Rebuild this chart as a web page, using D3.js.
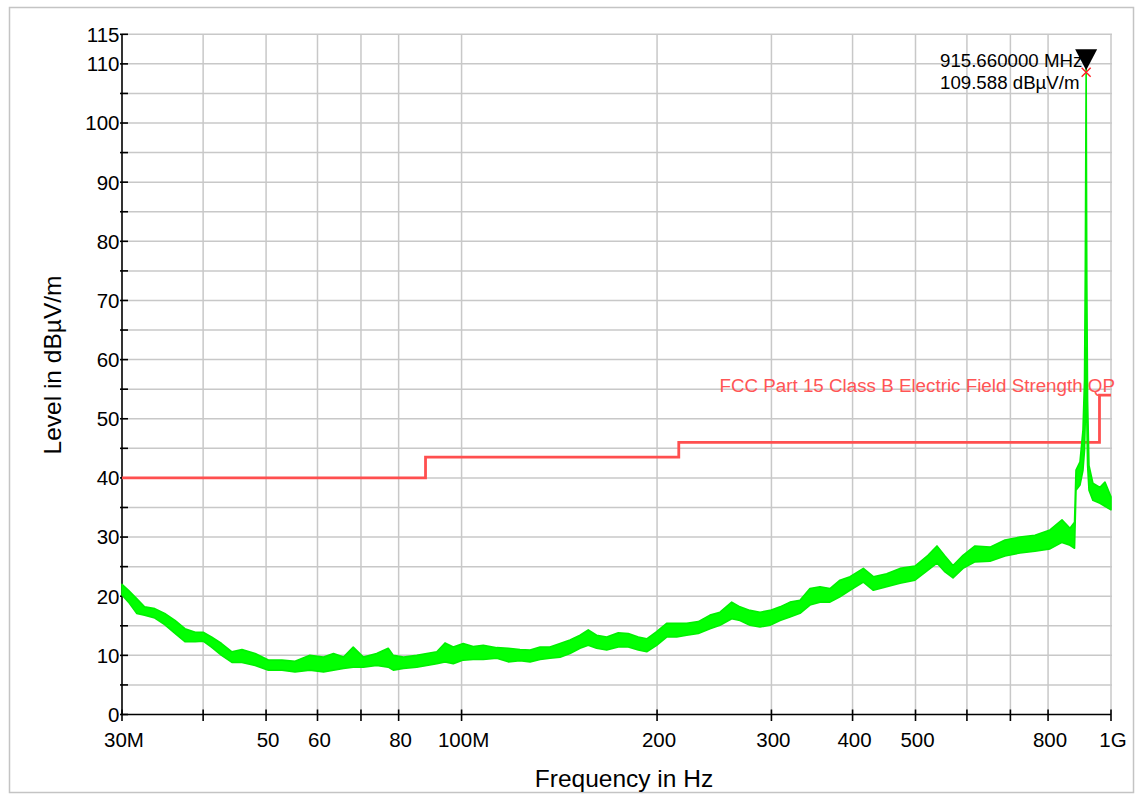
<!DOCTYPE html>
<html>
<head>
<meta charset="utf-8">
<script src="https://cdn.jsdelivr.net/npm/d3@7"></script>
<style>
  html, body { margin: 0; padding: 0; background: #ffffff; }
  svg { display: block; font-family: "Liberation Sans", Arial, sans-serif; }
</style>
</head>
<body>
<svg id="chart" width="1139" height="794"></svg>
<script>
// Measured field strength: frequency (MHz) with upper/lower envelope of the sweep (dBµV/m)
const traceFreq = [30.0, 30.7, 31.6, 32.5, 33.7, 34.9, 36.2, 37.5, 38.9, 40.0, 41.2, 42.7, 44.3, 45.9, 48.1,
  50.4, 52.9, 55.4, 58.4, 61.3, 63.5, 65.8, 68.1, 70.6, 74.0, 77.1, 78.5, 81.4, 85.3, 88.4, 91.6, 94.3, 97.1,
  100.6, 104.2, 108.0, 113.3, 118.0, 123.0, 127.5, 132.1, 136.8, 141.8, 146.9, 152.2, 156.7, 161.4, 167.3,
  174.3, 180.6, 187.1, 192.8, 199.7, 206.9, 214.4, 222.1, 231.5, 241.3, 250.0, 260.6, 268.3, 278.0, 288.1,
  298.5, 309.3, 320.4, 332.0, 343.9, 356.4, 369.2, 382.5, 396.4, 415.6, 430.6, 451.5, 473.3, 499.1, 522.6,
  539.5, 555.1, 571.1, 591.7, 617.4, 651.1, 686.7, 724.1, 763.7, 805.5, 840.5, 864.7, 878.7, 883.3, 895.9,
  905.4, 910.4, 912.9, 915.66, 917.8, 920.3, 924.9, 937.9, 961.6, 978.8, 1000.0];
const traceHigh = [22.0, 21.0, 19.6, 18.2, 17.9, 17.1, 15.9, 14.5, 13.9, 13.9, 13.1, 12.0, 10.6, 11.0, 10.3,
  9.2, 9.2, 9.0, 10.0, 9.7, 10.3, 9.7, 11.4, 9.7, 10.3, 11.2, 10.0, 9.7, 10.0, 10.3, 10.6, 12.1, 11.4,
  12.0, 11.5, 11.7, 11.3, 11.2, 11.0, 10.9, 11.4, 11.4, 12.0, 12.6, 13.4, 14.3, 13.4, 13.1,
  13.8, 13.7, 13.1, 12.8, 14.0, 15.4, 15.4, 15.4, 15.7, 16.8, 17.3, 19.0, 18.2, 17.6, 17.3,
  17.6, 18.2, 19.0, 19.3, 21.3, 21.6, 21.3, 22.7, 23.3, 24.7, 23.3, 23.8, 24.7, 25.1, 26.9,
  28.5, 26.8, 25.2, 26.9, 28.5, 28.3, 29.5, 30.0, 30.3, 31.2, 32.9, 31.5, 32.5, 41.3, 42.7,
  48.1, 56.5, 75.1, 109.588, 73.4, 53.2, 42.1, 39.1, 38.4, 39.3, 36.8];
const traceLow = [20.2, 19.0, 17.1, 16.8, 16.3, 15.2, 13.7, 12.3, 12.3, 12.4, 11.4, 10.0, 8.8, 8.8, 8.3,
  7.5, 7.5, 7.2, 7.5, 7.2, 7.5, 7.8, 8.0, 8.0, 8.3, 8.0, 7.5, 7.8, 8.0, 8.3, 8.6, 8.9, 8.6,
  9.2, 9.3, 9.3, 9.5, 8.9, 9.1, 8.9, 9.3, 9.5, 9.7, 10.3, 11.2, 11.7, 11.2, 10.9,
  11.4, 11.4, 10.9, 10.6, 11.7, 13.1, 13.1, 13.4, 13.7, 14.5, 15.1, 16.2, 15.9, 15.1, 14.8,
  15.1, 15.9, 16.5, 17.1, 18.5, 19.0, 19.0, 19.9, 21.0, 22.4, 21.0, 21.6, 22.2, 22.7, 24.4,
  25.6, 24.1, 23.1, 24.7, 25.8, 25.9, 26.8, 27.3, 27.6, 28.0, 29.1, 28.6, 28.1, 37.9, 38.8,
  41.3, 44.7, 49.8, 62.0, 49.8, 42.2, 37.9, 36.2, 35.7, 35.2, 34.6];

// FCC Part 15 Class B quasi-peak limit: band edges (MHz) and level per band (dBµV/m)
const limitEdges = [30, 88, 216, 960, 1000];
const limitLevels = [40, 43.5, 46, 54];
const limitName = "FCC Part 15 Class B Electric Field Strength QP";

// Peak marker
const markerFreq = 915.66;
const markerLevel = 109.588;
const markerLines = ["915.660000 MHz", "109.588 dBµV/m"];

// Axis ticks and labels
const xTickValues = [30, 40, 50, 60, 70, 80, 100, 200, 300, 400, 500, 600, 700, 800, 1000];
const xLabelValues = [30, 50, 60, 80, 100, 200, 300, 400, 500, 800, 1000];
const xLabelTexts = ["30M", "50", "60", "80", "100M", "200", "300", "400", "500", "800", "1G"];
const yTickValues = [0, 5, 10, 15, 20, 25, 30, 35, 40, 45, 50, 55, 60, 65, 70, 75, 80, 85, 90, 95, 100, 105, 110, 115];
const yLabelValues = [0, 10, 20, 30, 40, 50, 60, 70, 80, 90, 100, 110, 115];

const svg = d3.select("#chart");

const x = d3.scaleLog().domain([30, 1000]).range([122, 1111]);
const y = d3.scaleLinear().domain([0, 115]).range([714.5, 34.3]);

// outer frame
svg.append("rect")
  .attr("x", 9.5).attr("y", 7.5).attr("width", 1124).attr("height", 785)
  .attr("fill", "none").attr("stroke", "#c4c4c4").attr("stroke-width", 1.5);

// grid
const grid = svg.append("g").attr("stroke", "#c8c8c8").attr("stroke-width", 1.5);
grid.selectAll("line.h").data(yTickValues.filter(v => v > 0)).join("line")
  .attr("x1", x(30)).attr("x2", x(1000) + 1)
  .attr("y1", d => y(d)).attr("y2", d => y(d));
grid.selectAll("line.v").data(xTickValues.filter(v => v > 30)).join("line")
  .attr("x1", d => x(d)).attr("x2", d => x(d))
  .attr("y1", y(115)).attr("y2", y(0));

// axes
const axes = svg.append("g").attr("stroke", "#000").attr("stroke-width", 1.6);
axes.append("line").attr("x1", x(30)).attr("x2", x(30)).attr("y1", y(115)).attr("y2", y(0));
axes.append("line").attr("x1", x(30)).attr("x2", x(1000)).attr("y1", y(0)).attr("y2", y(0));
axes.selectAll("line.yt").data(yTickValues).join("line")
  .attr("x1", x(30) - 2).attr("x2", x(30) + 6)
  .attr("y1", d => y(d)).attr("y2", d => y(d));
axes.selectAll("line.xt").data(xTickValues).join("line")
  .attr("x1", d => x(d)).attr("x2", d => x(d))
  .attr("y1", y(0) - 5).attr("y2", y(0) + 6.5);

// tick labels
svg.append("g").selectAll("text").data(yLabelValues).join("text")
  .attr("x", 119.5).attr("y", d => y(d)).attr("dy", "0.36em")
  .attr("text-anchor", "end").attr("font-size", 20.5).attr("fill", "#000")
  .text(d => d);
svg.append("g").selectAll("text").data(xLabelValues).join("text")
  .attr("x", d => x(d) + 2).attr("y", 747)
  .attr("text-anchor", "middle").attr("font-size", 20.5).attr("fill", "#000")
  .text((d, i) => xLabelTexts[i]);

// axis titles
svg.append("text")
  .attr("x", 624).attr("y", 787)
  .attr("text-anchor", "middle").attr("font-size", 24.5).attr("fill", "#000")
  .text("Frequency in Hz");
svg.append("text")
  .attr("transform", "translate(61,365) rotate(-90)")
  .attr("text-anchor", "middle").attr("font-size", 24.5).attr("fill", "#000")
  .text("Level in dBµV/m");

// limit line
const limitPts = limitLevels.map((v, i) => [limitEdges[i], v]);
limitPts.push([limitEdges[limitEdges.length - 1], limitLevels[limitLevels.length - 1]]);
svg.append("path")
  .datum(limitPts)
  .attr("fill", "none").attr("stroke", "#ff4f4f").attr("stroke-width", 2.8)
  .attr("d", d3.line().x(d => x(d[0])).y(d => y(d[1])).curve(d3.curveStepAfter));
svg.append("text")
  .attr("x", 1115).attr("y", 391.5)
  .attr("text-anchor", "end").attr("font-size", 18.8).attr("fill", "#ff5555")
  .text(limitName);

// measured trace as a band between the envelopes
const traceData = traceFreq.map((f, i) => ({ f, hi: traceHigh[i], lo: traceLow[i] }));
svg.append("path")
  .datum(traceData)
  .attr("fill", "#00ff00").attr("stroke", "#00f000").attr("stroke-width", 1.6)
  .attr("stroke-linejoin", "round")
  .attr("d", d3.area().x(d => x(d.f)).y0(d => y(d.lo)).y1(d => y(d.hi)));

// peak marker: triangle, cross and readout
const mx = x(markerFreq), my = y(markerLevel);
svg.append("path")
  .attr("d", `M${mx - 11},${my - 17} L${mx + 11},${my - 17} L${mx},${my + 4} Z`)
  .attr("fill", "#000");
svg.append("path")
  .attr("d", `M${mx - 4.5},${my + 1.5} L${mx + 4.5},${my + 10.5} M${mx + 4.5},${my + 1.5} L${mx - 4.5},${my + 10.5}`)
  .attr("stroke", "#ff2020").attr("stroke-width", 1.4);
svg.append("g").selectAll("text").data(markerLines).join("text")
  .attr("x", 940).attr("y", (d, i) => 66.5 + i * 22.5)
  .attr("font-size", 18.7).attr("fill", "#000")
  .text(d => d);
</script>
</body>
</html>
